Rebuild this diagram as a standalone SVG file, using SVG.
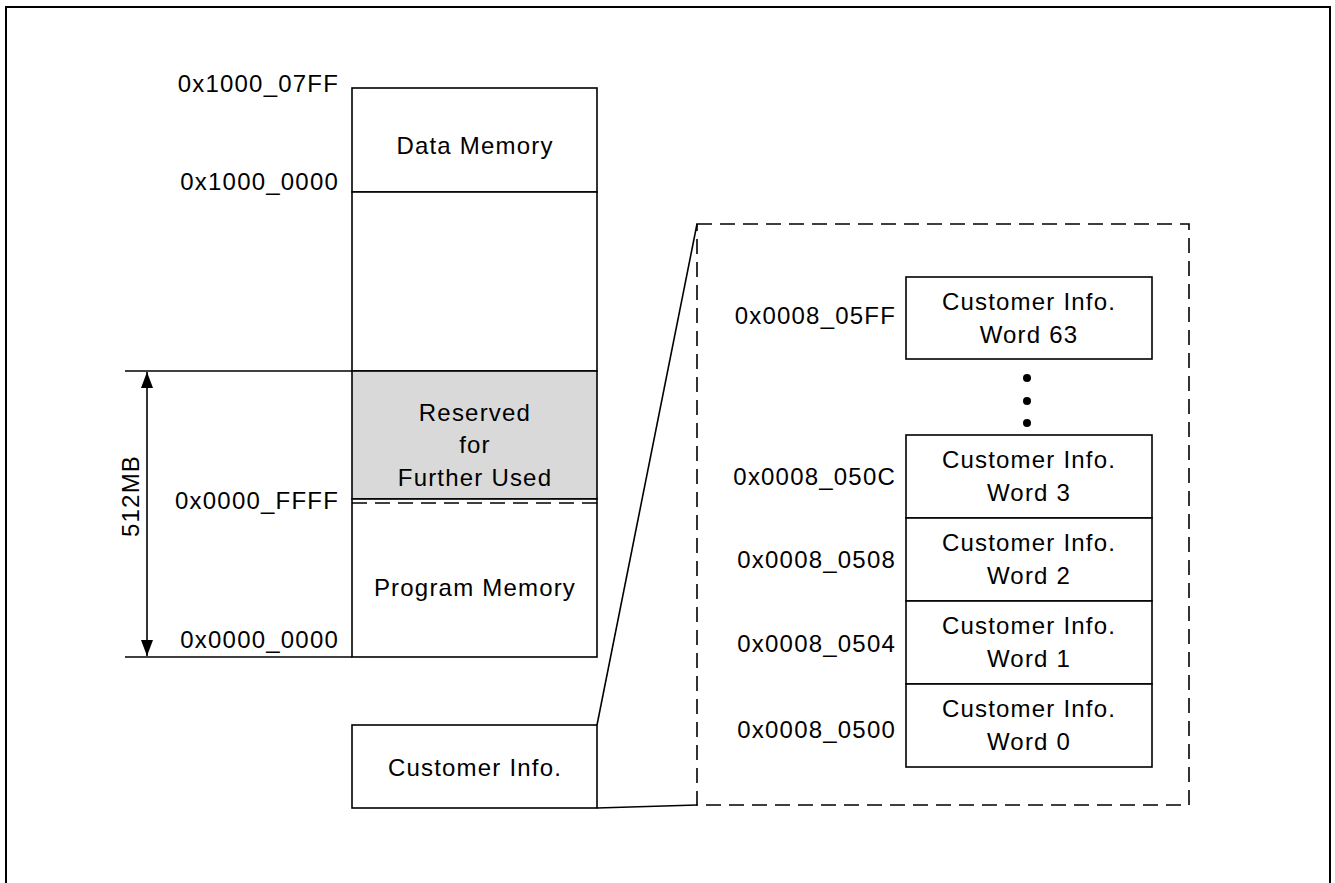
<svg xmlns="http://www.w3.org/2000/svg" width="1335" height="883" viewBox="0 0 1335 883">
<defs>
<style>
text{font-family:"Liberation Sans",Arial,sans-serif;font-size:24px;letter-spacing:1.2px;fill:#000}
.c{text-anchor:middle}
.e{text-anchor:end}
.box{fill:#fff;stroke:#000;stroke-width:1.6}
.ln{stroke:#000;stroke-width:1.6;fill:none}
.dash{stroke:#000;stroke-width:1.6;fill:none;stroke-dasharray:15 8}
</style>
<marker id="ah" viewBox="0 0 16 12" refX="16" refY="6" markerWidth="16" markerHeight="12" markerUnits="userSpaceOnUse" orient="auto-start-reverse">
<path d="M0,0 L16,6 L0,12 Z" fill="#000"/>
</marker>
</defs>
<rect x="0" y="0" width="1335" height="883" fill="#fff"/>
<rect x="6" y="7" width="1324" height="900" fill="none" stroke="#000" stroke-width="2"/>

<g id="data-memory">
<rect class="box" x="352" y="88" width="245" height="104"/>
<text class="c" x="475" y="154">Data Memory</text>
</g>
<g id="gap-region">
<rect class="box" x="352" y="192" width="245" height="179"/>
</g>
<g id="reserved">
<rect x="352" y="371" width="245" height="128" fill="#d9d9d9" stroke="#000" stroke-width="1.6"/>
<text class="c" x="475" y="421">Reserved</text>
<text class="c" x="475" y="453">for</text>
<text class="c" x="475" y="486">Further Used</text>
</g>
<g id="program-memory">
<rect class="box" x="352" y="499" width="245" height="158"/>
<line class="dash" x1="352" y1="503" x2="597" y2="503"/>
<text class="c" x="475" y="596">Program Memory</text>
</g>
<g id="customer-info">
<rect class="box" x="352" y="725" width="245" height="83"/>
<text class="c" x="475" y="776">Customer Info.</text>
</g>

<g id="addr-labels">
<text class="e" x="339" y="92">0x1000_07FF</text>
<text class="e" x="339" y="190">0x1000_0000</text>
<text class="e" x="339" y="509">0x0000_FFFF</text>
<text class="e" x="339" y="648">0x0000_0000</text>
</g>

<g id="size-dim">
<line class="ln" x1="125" y1="371" x2="352" y2="371"/>
<line class="ln" x1="125" y1="657" x2="352" y2="657"/>
<line class="ln" x1="147" y1="372" x2="147" y2="656" marker-start="url(#ah)" marker-end="url(#ah)"/>
<text class="c" transform="translate(139,496) rotate(-90)">512MB</text>
</g>

<g id="connectors">
<line class="ln" x1="597" y1="725" x2="697" y2="224"/>
<line class="ln" x1="597" y1="808" x2="697" y2="805"/>
</g>

<g id="zoom-frame">
<rect class="dash" x="697" y="224" width="492" height="581"/>
</g>

<g id="word63">
<rect class="box" x="906" y="277" width="246" height="82"/>
<text class="c" x="1029" y="310">Customer Info.</text>
<text class="c" x="1029" y="343">Word 63</text>
<text class="e" x="896" y="324">0x0008_05FF</text>
</g>
<g id="ellipsis">
<circle cx="1027" cy="378" r="4"/>
<circle cx="1027" cy="401" r="4"/>
<circle cx="1027" cy="423" r="4"/>
</g>
<g id="word3">
<rect class="box" x="906" y="435" width="246" height="83"/>
<text class="c" x="1029" y="468">Customer Info.</text>
<text class="c" x="1029" y="501">Word 3</text>
<text class="e" x="896" y="485">0x0008_050C</text>
</g>
<g id="word2">
<rect class="box" x="906" y="518" width="246" height="83"/>
<text class="c" x="1029" y="551">Customer Info.</text>
<text class="c" x="1029" y="584">Word 2</text>
<text class="e" x="896" y="568">0x0008_0508</text>
</g>
<g id="word1">
<rect class="box" x="906" y="601" width="246" height="83"/>
<text class="c" x="1029" y="634">Customer Info.</text>
<text class="c" x="1029" y="667">Word 1</text>
<text class="e" x="896" y="652">0x0008_0504</text>
</g>
<g id="word0">
<rect class="box" x="906" y="684" width="246" height="83"/>
<text class="c" x="1029" y="717">Customer Info.</text>
<text class="c" x="1029" y="750">Word 0</text>
<text class="e" x="896" y="738">0x0008_0500</text>
</g>
</svg>
